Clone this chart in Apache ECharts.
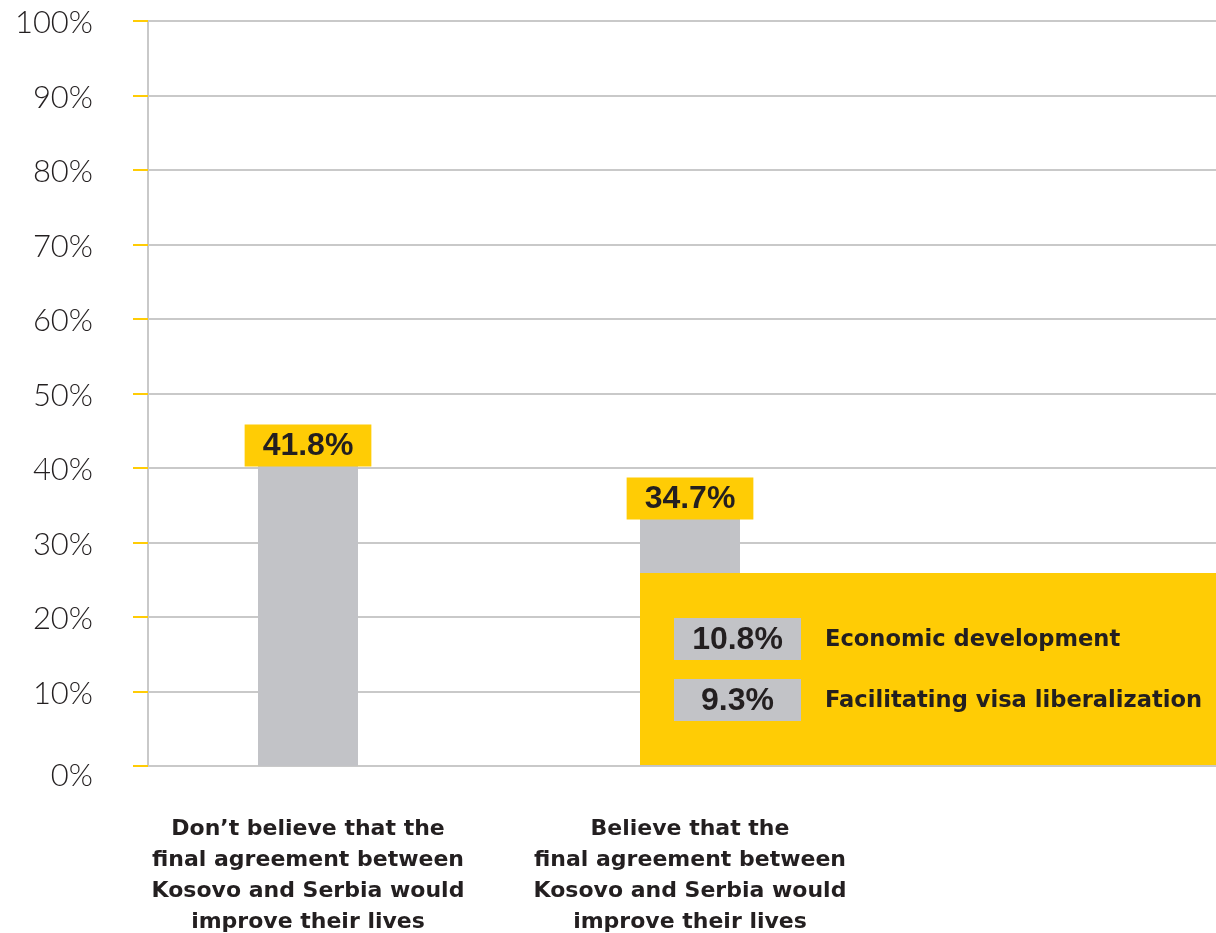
<!DOCTYPE html>
<html>
<head>
<meta charset="utf-8">
<script src="https://cdn.jsdelivr.net/npm/echarts@6/dist/echarts.min.js"></script>
<style>
  html, body { margin: 0; padding: 0; background: #ffffff; }
  #chart { width: 1216px; height: 933px; }
</style>
</head>
<body>
<div id="chart"></div>
<script>
// Survey answers: share of respondents in each group
const categories = [
  "Don’t believe that the\nfinal agreement between\nKosovo and Serbia would\nimprove their lives",
  "Believe that the\nfinal agreement between\nKosovo and Serbia would\nimprove their lives"
];
const shares = [41.8, 34.7];

// Main reasons given by those who believe in an improvement
const reasonLabels = ["Economic development", "Facilitating visa liberalization"];
const reasonShares = [10.8, 9.3];

// Y axis ticks
const yTicks = [0, 10, 20, 30, 40, 50, 60, 70, 80, 90, 100];

const YELLOW = '#FFCC05';
const GREY_BAR = '#C2C3C7';
const GRID_GREY = '#C9C9C9';
const INK = '#231F20';
const BOLD_FONT = '"DejaVu Sans", Verdana, sans-serif';
const NUM_FONT = '"Liberation Sans", Arial, sans-serif';

const chart = echarts.init(document.getElementById('chart'));

// Panel with the reasons, drawn over the lower right part of the plot
const panelChildren = [
  { type: 'rect', z: 100, shape: { x: 0, y: 0, width: 576, height: 192 }, style: { fill: YELLOW } }
];
reasonShares.forEach((v, i) => {
  const y = 45 + i * 61;
  panelChildren.push({
    type: 'rect', z: 101, shape: { x: 34, y: y, width: 127, height: 42 }, style: { fill: GREY_BAR }
  });
  panelChildren.push({
    type: 'text', z: 102, x: 97.5, y: y + 22,
    style: {
      text: v.toFixed(1) + '%', fill: INK, align: 'center', verticalAlign: 'middle',
      font: 'bold 32px ' + NUM_FONT
    }
  });
  panelChildren.push({
    type: 'text', z: 102, x: 185, y: y + 22,
    style: {
      text: reasonLabels[i], fill: INK, align: 'left', verticalAlign: 'middle',
      font: 'bold 22.6px ' + BOLD_FONT
    }
  });
});

chart.setOption({
  animation: false,
  backgroundColor: '#ffffff',
  grid: [
    { left: 117, right: 335, top: 21, bottom: 167, outerBoundsMode: 'none' },
    { left: 148, right: 0, top: 21, bottom: 167, outerBoundsMode: 'none' }
  ],
  xAxis: [
    {
      type: 'category', gridIndex: 0, data: categories,
      axisLine: { show: false }, axisTick: { show: false },
      axisLabel: {
        interval: 0, margin: 48, color: INK,
        fontFamily: BOLD_FONT,
        fontWeight: 'bold', fontSize: 22, lineHeight: 31, align: 'center'
      }
    },
    {
      type: 'value', gridIndex: 1, min: 0, max: 1,
      axisLine: { show: true, lineStyle: { color: GRID_GREY, width: 2 } },
      axisTick: { show: false }, axisLabel: { show: false }, splitLine: { show: false }
    }
  ],
  yAxis: [
    { type: 'value', gridIndex: 0, min: 0, max: 100, interval: 10, show: false },
    {
      type: 'value', gridIndex: 1, min: 0, max: 100, interval: 10,
      axisLine: { show: true, lineStyle: { color: GRID_GREY, width: 2 } },
      axisTick: { show: true, length: 15, lineStyle: { color: YELLOW, width: 2 } },
      splitLine: { show: true, lineStyle: { color: GRID_GREY, width: 2 } },
      axisLabel: {
        margin: 55, color: INK,
        fontFamily: 'Lato, "Open Sans", sans-serif', fontWeight: 300, fontSize: 31,
        formatter: v => (yTicks.includes(v) ? (v === 0 ? '{z|0%}' : '{n|' + v + '%}') : ''),
        rich: {
          n: { fontFamily: 'Lato, "Open Sans", sans-serif', fontWeight: 300, fontSize: 31, color: INK, padding: [4, 0, 0, 0] },
          z: { fontFamily: 'Lato, "Open Sans", sans-serif', fontWeight: 300, fontSize: 31, color: INK, padding: [19, 0, 0, 0] }
        }
      }
    }
  ],
  series: [
    {
      type: 'bar', xAxisIndex: 0, yAxisIndex: 0,
      data: shares, barWidth: 100,
      itemStyle: { color: GREY_BAR },
      label: {
        show: true, position: 'top', distance: -12,
        formatter: p => p.value.toFixed(1) + '%',
        backgroundColor: YELLOW, color: INK,
        fontFamily: NUM_FONT, fontWeight: 'bold', fontSize: 32,
        lineHeight: 32, padding: [6, 18, 4, 18]
      },
      z: 3
    }
  ],
  graphic: [
    { type: 'group', left: 640, top: 573, z: 100, children: panelChildren }
  ]
});
</script>
</body>
</html>
